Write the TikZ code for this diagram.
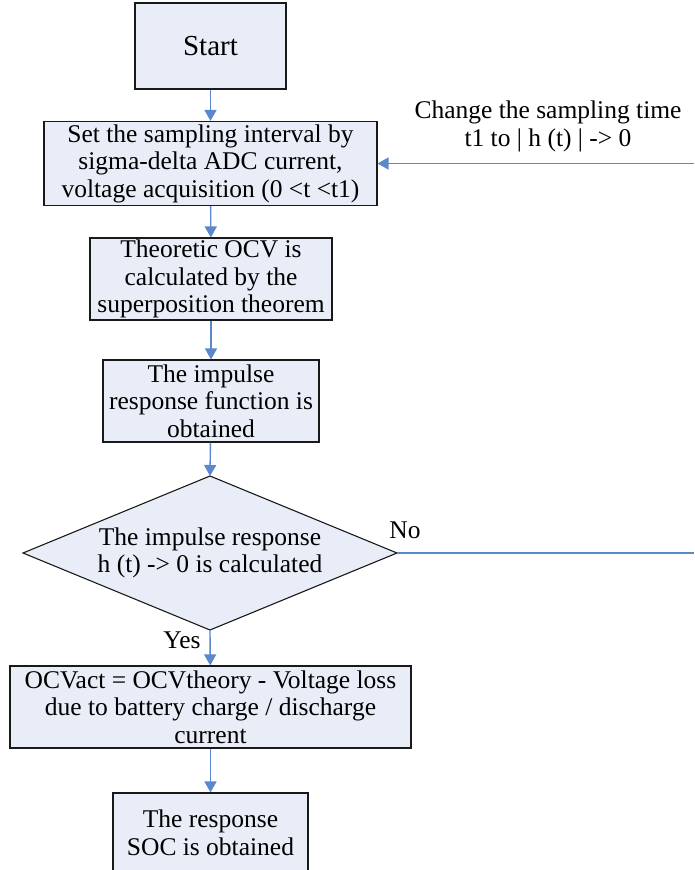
\documentclass[tikz,border=0pt]{standalone}
\usepackage{fontspec}
\setmainfont{Liberation Serif}
\usetikzlibrary{arrows.meta}
\definecolor{boxfill}{HTML}{E8EDF7}
\definecolor{flowblue}{HTML}{5B87CD}
\begin{document}
\begin{tikzpicture}[x=1pt,y=-1pt,
  box/.style={draw=black!90, line width=1.1pt, fill=boxfill, rectangle,
    inner sep=0pt, align=center, font=\fontsize{25.5}{27.5}\selectfont},
  decisionshape/.style={draw=black!90, line width=1.1pt, fill=boxfill},
  flowline/.style={draw=flowblue, line width=1.4pt},
  flow/.style={flowline, -{Triangle[width=12pt,length=11pt]}},
  lbl/.style={inner sep=0pt, align=center, font=\fontsize{25.5}{27.5}\selectfont}]
\useasboundingbox (0,0) rectangle (694,870);

% process steps
\node[box, minimum width=151pt, minimum height=86pt, font=\fontsize{29}{32}\selectfont]
  (start) at (210.5,46) {Start};
\node[box, minimum width=333pt, minimum height=84pt] (set) at (210.5,163.5)
  {Set the sampling interval by\\sigma-delta ADC current,\\voltage acquisition (0 <t <t1)};
\node[box, minimum width=242pt, minimum height=82pt] (ocv) at (211,279)
  {Theoretic OCV is\\calculated by the\\superposition theorem};
\node[box, minimum width=216pt, minimum height=82pt] (imp) at (211,401)
  {The impulse\\response function is\\obtained};

% decision diamond
\coordinate (dtop) at (210,476);
\coordinate (dright) at (397,553);
\coordinate (dbot) at (210,630);
\coordinate (dleft) at (23,553);
\path[decisionshape] (dtop) -- (dright) -- (dbot) -- (dleft) -- cycle;
\node[lbl] (dec) at (210,553) {The impulse response\\h (t) -> 0 is calculated};

\node[box, minimum width=401pt, minimum height=82pt] (act) at (210.5,707)
  {OCVact = OCVtheory - Voltage loss\\due to battery charge / discharge\\current};
\node[box, minimum width=195pt, minimum height=80pt] (soc) at (210.5,833)
  {The response\\SOC is obtained};

% main flow
\draw[flow] (start) -- (set);
\draw[flow] (set) -- (ocv);
\draw[flow] (ocv) -- (imp);
\draw[flow] (imp) -- (dtop);
\draw[flow] (dbot) -- (act);
\draw[flow] (act) -- (soc);

% branch labels
\node[lbl] (yes) at (182,640) {Yes};
\node[lbl] (no) at (405,530) {No};

% feedback loop leaving the right edge
\coordinate (loopout) at (694,553);
\coordinate (loopin) at (694,163.5);
\draw[flowline] (dright) -- (loopout);
\draw[flow] (loopin) -- (set.east);
\node[lbl] (change) at (548,126.5)
  {Change the sampling time\\t1 to | h (t) | -> 0};
\end{tikzpicture}
\end{document}
